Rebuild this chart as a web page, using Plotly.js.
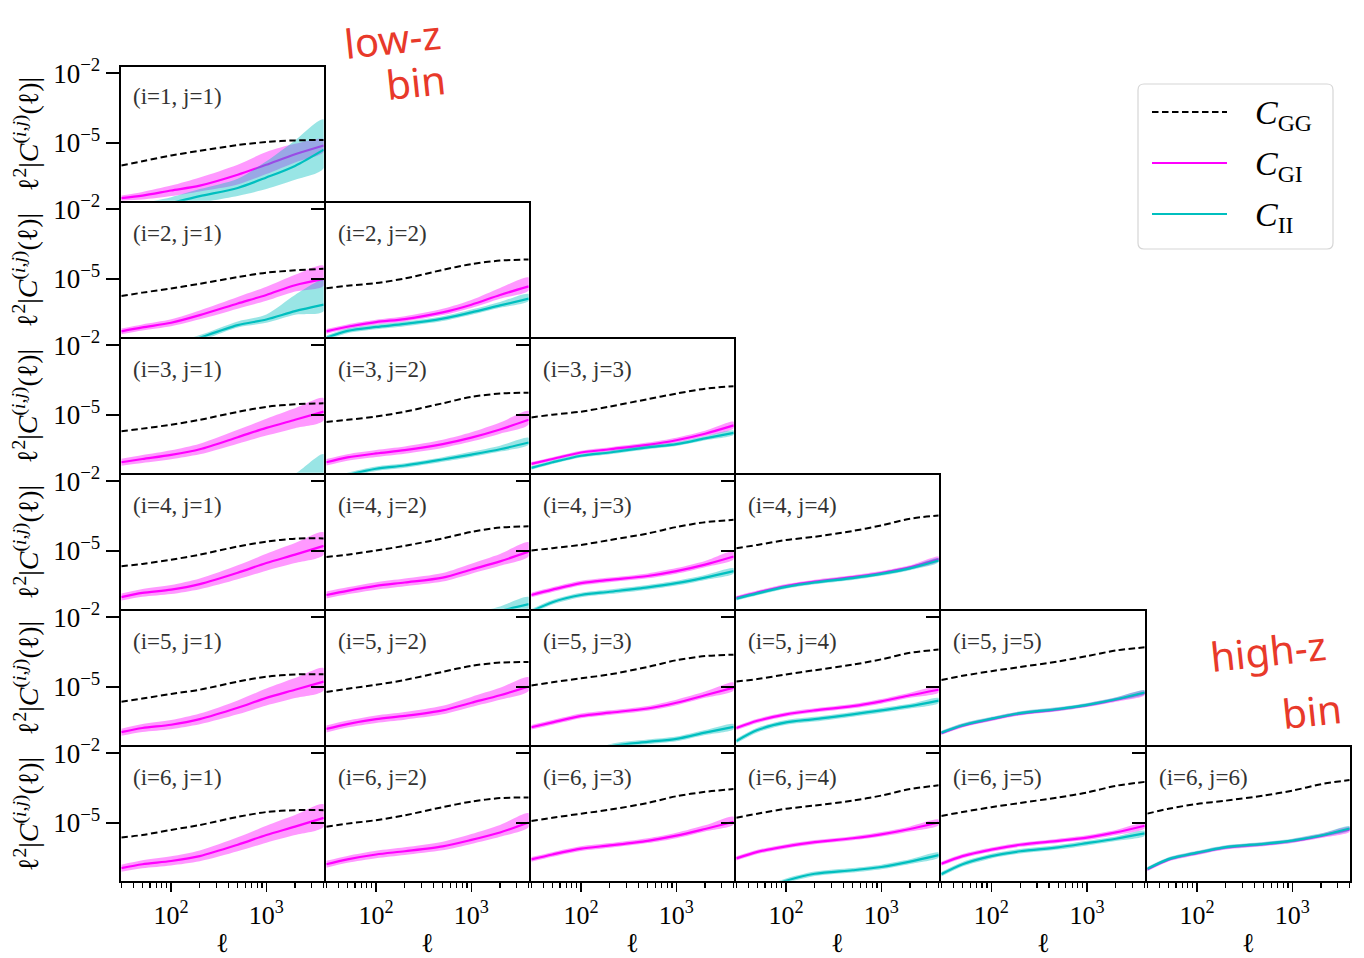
<!DOCTYPE html>
<html>
<head>
<meta charset="utf-8">
<script src="https://cdn.plot.ly/plotly-3.0.1.min.js"></script>
<style>
  html, body { margin: 0; padding: 0; background: #fff; }
  #chart { width: 1364px; height: 958px; }
</style>
</head>
<body>
<div id="chart"></div>
<script>
// Multipole sample points shared by every panel
const ELL = [30, 50, 100, 200, 500, 1000, 2000, 4000];

// Tomographic bin pairs (i, j), lower triangle, row by row
const PAIRS = [
  [1, 1],
  [2, 1], [2, 2],
  [3, 1], [3, 2], [3, 3],
  [4, 1], [4, 2], [4, 3], [4, 4],
  [5, 1], [5, 2], [5, 3], [5, 4], [5, 5],
  [6, 1], [6, 2], [6, 3], [6, 4], [6, 5], [6, 6]
];

// log10 of l^2 |C_GG(l)| per pair
const GG_LOG = [
  [-5.98, -5.80, -5.55, -5.35, -5.10, -4.97, -4.90, -4.88],
  [-5.75, -5.60, -5.42, -5.22, -4.93, -4.74, -4.64, -4.57],
  [-5.41, -5.30, -5.19, -4.99, -4.62, -4.37, -4.22, -4.17],
  [-5.71, -5.60, -5.43, -5.22, -4.88, -4.66, -4.55, -4.51],
  [-5.31, -5.22, -5.08, -4.87, -4.51, -4.23, -4.09, -4.05],
  [-5.12, -5.00, -4.87, -4.65, -4.33, -4.09, -3.88, -3.77],
  [-5.67, -5.57, -5.39, -5.17, -4.82, -4.61, -4.48, -4.47],
  [-5.27, -5.17, -4.99, -4.79, -4.47, -4.19, -4.00, -3.95],
  [-4.99, -4.89, -4.75, -4.54, -4.26, -3.98, -3.77, -3.67],
  [-4.89, -4.75, -4.54, -4.40, -4.15, -3.91, -3.62, -3.48],
  [-5.65, -5.51, -5.31, -5.13, -4.78, -4.57, -4.47, -4.46],
  [-5.23, -5.09, -4.92, -4.71, -4.36, -4.10, -3.96, -3.94],
  [-4.95, -4.81, -4.64, -4.47, -4.15, -3.86, -3.68, -3.62],
  [-4.78, -4.67, -4.47, -4.29, -4.05, -3.82, -3.54, -3.40],
  [-4.71, -4.53, -4.33, -4.15, -3.91, -3.68, -3.44, -3.30],
  [-5.64, -5.53, -5.31, -5.10, -4.75, -4.54, -4.46, -4.46],
  [-5.17, -5.04, -4.89, -4.68, -4.33, -4.09, -3.94, -3.91],
  [-4.93, -4.79, -4.61, -4.44, -4.15, -3.86, -3.67, -3.55],
  [-4.79, -4.61, -4.40, -4.26, -4.05, -3.83, -3.55, -3.39],
  [-4.71, -4.54, -4.33, -4.15, -3.91, -3.70, -3.41, -3.24],
  [-4.61, -4.40, -4.19, -4.05, -3.83, -3.62, -3.34, -3.16]
];

// log10 of l^2 |C_GI(l)| per pair (median)
const GI_LOG = [
  [-7.39, -7.28, -7.06, -6.85, -6.38, -5.95, -5.50, -5.12],
  [-7.27, -7.10, -6.90, -6.57, -6.07, -5.70, -5.28, -5.02],
  [-7.27, -7.07, -6.87, -6.74, -6.45, -6.12, -5.70, -5.33],
  [-7.05, -6.91, -6.73, -6.49, -5.97, -5.57, -5.22, -4.87],
  [-7.05, -6.84, -6.67, -6.53, -6.27, -5.99, -5.64, -5.22],
  [-7.12, -6.91, -6.63, -6.49, -6.30, -6.10, -5.82, -5.46],
  [-7.00, -6.82, -6.68, -6.44, -5.95, -5.53, -5.17, -4.79],
  [-6.91, -6.73, -6.52, -6.37, -6.16, -5.81, -5.46, -5.04],
  [-6.91, -6.68, -6.40, -6.26, -6.09, -5.88, -5.60, -5.25],
  [-7.03, -6.80, -6.52, -6.33, -6.14, -5.96, -5.72, -5.36],
  [-6.96, -6.78, -6.64, -6.40, -5.91, -5.48, -5.13, -4.78],
  [-6.82, -6.61, -6.40, -6.26, -6.02, -5.69, -5.37, -4.99],
  [-6.75, -6.54, -6.26, -6.12, -5.94, -5.69, -5.37, -5.04],
  [-6.78, -6.47, -6.19, -6.02, -5.84, -5.63, -5.37, -5.13],
  [-7.00, -6.68, -6.40, -6.16, -5.98, -5.80, -5.56, -5.27],
  [-6.96, -6.79, -6.65, -6.44, -5.95, -5.53, -5.17, -4.79],
  [-6.79, -6.58, -6.37, -6.23, -6.02, -5.74, -5.42, -4.99],
  [-6.58, -6.37, -6.12, -5.98, -5.78, -5.56, -5.27, -4.96],
  [-6.54, -6.26, -6.02, -5.84, -5.67, -5.50, -5.27, -4.99],
  [-6.77, -6.44, -6.16, -5.95, -5.78, -5.64, -5.42, -5.13],
  [-7.01, -6.59, -6.31, -6.07, -5.93, -5.79, -5.57, -5.29]
];

// Upper / lower widths of the C_GI band, in decades
const GI_UP = [
  [0.11, 0.16, 0.21, 0.35, 0.43, 0.55, 0.45, 0.27],
  [0.12, 0.13, 0.15, 0.20, 0.28, 0.35, 0.45, 0.58],
  [0.10, 0.10, 0.10, 0.12, 0.15, 0.20, 0.30, 0.38],
  [0.15, 0.17, 0.20, 0.24, 0.32, 0.40, 0.50, 0.58],
  [0.14, 0.14, 0.15, 0.16, 0.19, 0.23, 0.30, 0.38],
  [0.08, 0.08, 0.08, 0.09, 0.10, 0.11, 0.13, 0.16],
  [0.15, 0.17, 0.20, 0.24, 0.32, 0.40, 0.50, 0.58],
  [0.15, 0.15, 0.16, 0.17, 0.20, 0.25, 0.32, 0.40],
  [0.10, 0.10, 0.10, 0.10, 0.11, 0.13, 0.16, 0.22],
  [0.08, 0.08, 0.08, 0.08, 0.08, 0.08, 0.09, 0.10],
  [0.15, 0.17, 0.20, 0.24, 0.32, 0.40, 0.50, 0.58],
  [0.15, 0.15, 0.16, 0.17, 0.20, 0.25, 0.32, 0.40],
  [0.10, 0.10, 0.10, 0.10, 0.11, 0.13, 0.16, 0.22],
  [0.09, 0.09, 0.09, 0.09, 0.09, 0.10, 0.11, 0.12],
  [0.08, 0.08, 0.08, 0.08, 0.08, 0.08, 0.09, 0.10],
  [0.15, 0.17, 0.20, 0.24, 0.32, 0.40, 0.50, 0.58],
  [0.15, 0.15, 0.16, 0.17, 0.20, 0.25, 0.32, 0.40],
  [0.10, 0.10, 0.10, 0.10, 0.11, 0.13, 0.16, 0.22],
  [0.09, 0.09, 0.09, 0.09, 0.09, 0.10, 0.11, 0.12],
  [0.09, 0.09, 0.09, 0.09, 0.09, 0.10, 0.11, 0.12],
  [0.08, 0.08, 0.08, 0.08, 0.08, 0.08, 0.09, 0.10]
];
const GI_DN = [
  [0.11, 0.17, 0.24, 0.25, 0.42, 0.40, 0.35, 0.28],
  [0.12, 0.13, 0.15, 0.18, 0.22, 0.25, 0.27, 0.28],
  [0.10, 0.10, 0.10, 0.10, 0.12, 0.14, 0.16, 0.18],
  [0.15, 0.17, 0.19, 0.22, 0.28, 0.33, 0.36, 0.38],
  [0.14, 0.14, 0.15, 0.15, 0.16, 0.17, 0.18, 0.20],
  [0.08, 0.08, 0.08, 0.09, 0.10, 0.10, 0.11, 0.12],
  [0.15, 0.17, 0.19, 0.22, 0.28, 0.33, 0.36, 0.38],
  [0.15, 0.15, 0.16, 0.16, 0.17, 0.18, 0.19, 0.20],
  [0.10, 0.10, 0.10, 0.10, 0.10, 0.11, 0.11, 0.12],
  [0.08, 0.08, 0.08, 0.08, 0.08, 0.08, 0.09, 0.10],
  [0.15, 0.17, 0.19, 0.22, 0.28, 0.33, 0.36, 0.38],
  [0.15, 0.15, 0.16, 0.16, 0.17, 0.18, 0.19, 0.20],
  [0.10, 0.10, 0.10, 0.10, 0.10, 0.11, 0.11, 0.12],
  [0.09, 0.09, 0.09, 0.09, 0.09, 0.10, 0.11, 0.12],
  [0.08, 0.08, 0.08, 0.08, 0.08, 0.08, 0.09, 0.10],
  [0.15, 0.17, 0.19, 0.22, 0.28, 0.33, 0.36, 0.38],
  [0.15, 0.15, 0.16, 0.16, 0.17, 0.18, 0.19, 0.20],
  [0.10, 0.10, 0.10, 0.10, 0.10, 0.11, 0.11, 0.12],
  [0.09, 0.09, 0.09, 0.09, 0.09, 0.10, 0.11, 0.12],
  [0.09, 0.09, 0.09, 0.09, 0.09, 0.10, 0.11, 0.12],
  [0.08, 0.08, 0.08, 0.08, 0.08, 0.08, 0.09, 0.10]
];

// log10 of l^2 |C_II(l)| per pair (median); null where it stays below the panel
const II_LOG = [
  [-8.00, -7.85, -7.60, -7.30, -6.95, -6.50, -6.00, -5.30],
  [-8.50, -8.30, -8.00, -7.55, -7.00, -6.76, -6.40, -6.12],
  [-7.55, -7.25, -7.08, -6.95, -6.72, -6.45, -6.15, -5.86],
  [null, null, null, null, null, -8.30, -7.90, -7.60],
  [-7.85, -7.60, -7.33, -7.19, -6.93, -6.72, -6.49, -6.20],
  [-7.29, -7.05, -6.77, -6.63, -6.41, -6.27, -6.02, -5.78],
  [null, null, null, null, null, null, null, null],
  [null, null, null, null, -8.40, -7.95, -7.60, -7.30],
  [-7.62, -7.22, -6.91, -6.77, -6.58, -6.40, -6.16, -5.88],
  [-7.07, -6.84, -6.56, -6.37, -6.18, -6.00, -5.76, -5.42],
  [null, null, null, null, null, null, null, null],
  [null, null, null, null, null, null, null, null],
  [null, null, -8.10, -7.58, -7.38, -7.25, -6.98, -6.73],
  [-7.34, -6.87, -6.54, -6.40, -6.19, -6.02, -5.84, -5.60],
  [-6.98, -6.66, -6.38, -6.14, -5.96, -5.78, -5.54, -5.25],
  [null, null, null, null, null, null, null, null],
  [null, null, null, null, null, null, null, null],
  [null, null, null, null, null, null, null, null],
  [-8.30, -7.95, -7.50, -7.20, -7.05, -6.91, -6.68, -6.40],
  [-7.22, -6.79, -6.44, -6.23, -6.06, -5.88, -5.69, -5.46],
  [-6.99, -6.57, -6.29, -6.05, -5.91, -5.77, -5.55, -5.25]
];

// Upper / lower widths of the C_II band, in decades
const II_UP = [
  [0.30, 0.25, 0.25, 0.30, 0.40, 0.70, 1.10, 1.30],
  [0.20, 0.20, 0.20, 0.12, 0.16, 0.22, 0.70, 1.05],
  [0.10, 0.10, 0.10, 0.10, 0.10, 0.12, 0.15, 0.20],
  [0.20, 0.20, 0.20, 0.20, 0.20, 0.20, 0.35, 0.90],
  [0.10, 0.10, 0.10, 0.10, 0.10, 0.12, 0.15, 0.20],
  [0.08, 0.08, 0.08, 0.08, 0.08, 0.08, 0.09, 0.10],
  [0.10, 0.10, 0.10, 0.10, 0.10, 0.10, 0.10, 0.10],
  [0.20, 0.20, 0.20, 0.20, 0.20, 0.20, 0.20, 0.30],
  [0.10, 0.10, 0.10, 0.10, 0.10, 0.10, 0.11, 0.12],
  [0.08, 0.08, 0.08, 0.08, 0.08, 0.08, 0.09, 0.10],
  [0.10, 0.10, 0.10, 0.10, 0.10, 0.10, 0.10, 0.10],
  [0.10, 0.10, 0.10, 0.10, 0.10, 0.10, 0.10, 0.10],
  [0.10, 0.10, 0.10, 0.10, 0.10, 0.10, 0.11, 0.12],
  [0.10, 0.10, 0.10, 0.10, 0.10, 0.10, 0.10, 0.11],
  [0.08, 0.08, 0.08, 0.08, 0.08, 0.08, 0.09, 0.10],
  [0.10, 0.10, 0.10, 0.10, 0.10, 0.10, 0.10, 0.10],
  [0.10, 0.10, 0.10, 0.10, 0.10, 0.10, 0.10, 0.10],
  [0.10, 0.10, 0.10, 0.10, 0.10, 0.10, 0.10, 0.10],
  [0.10, 0.10, 0.10, 0.10, 0.10, 0.10, 0.10, 0.11],
  [0.10, 0.10, 0.10, 0.10, 0.10, 0.10, 0.10, 0.11],
  [0.08, 0.08, 0.08, 0.08, 0.08, 0.08, 0.09, 0.10]
];
const II_DN = [
  [0.30, 0.35, 0.30, 0.30, 0.35, 0.50, 0.60, 0.80],
  [0.20, 0.20, 0.20, 0.15, 0.10, 0.14, 0.15, 0.28],
  [0.10, 0.10, 0.10, 0.10, 0.10, 0.10, 0.10, 0.10],
  [0.20, 0.20, 0.20, 0.20, 0.20, 0.20, 0.30, 0.50],
  [0.10, 0.10, 0.10, 0.10, 0.10, 0.10, 0.10, 0.10],
  [0.08, 0.08, 0.08, 0.08, 0.08, 0.08, 0.08, 0.08],
  [0.10, 0.10, 0.10, 0.10, 0.10, 0.10, 0.10, 0.10],
  [0.20, 0.20, 0.20, 0.20, 0.20, 0.20, 0.20, 0.20],
  [0.10, 0.10, 0.10, 0.10, 0.10, 0.10, 0.10, 0.10],
  [0.08, 0.08, 0.08, 0.08, 0.08, 0.08, 0.08, 0.08],
  [0.10, 0.10, 0.10, 0.10, 0.10, 0.10, 0.10, 0.10],
  [0.10, 0.10, 0.10, 0.10, 0.10, 0.10, 0.10, 0.10],
  [0.10, 0.10, 0.10, 0.10, 0.10, 0.10, 0.10, 0.10],
  [0.10, 0.10, 0.10, 0.10, 0.10, 0.10, 0.10, 0.10],
  [0.08, 0.08, 0.08, 0.08, 0.08, 0.08, 0.08, 0.08],
  [0.10, 0.10, 0.10, 0.10, 0.10, 0.10, 0.10, 0.10],
  [0.10, 0.10, 0.10, 0.10, 0.10, 0.10, 0.10, 0.10],
  [0.10, 0.10, 0.10, 0.10, 0.10, 0.10, 0.10, 0.10],
  [0.10, 0.10, 0.10, 0.10, 0.10, 0.10, 0.10, 0.10],
  [0.10, 0.10, 0.10, 0.10, 0.10, 0.10, 0.10, 0.10],
  [0.08, 0.08, 0.08, 0.08, 0.08, 0.08, 0.08, 0.08]
];

// Axis ticks
const X_TICKS = [100, 1000];
const X_TICK_TEXT = ['10<sup>2</sup>', '10<sup>3</sup>'];
const X_MINOR = [30, 40, 50, 60, 70, 80, 90, 200, 300, 400, 500, 600, 700, 800, 900, 2000, 3000, 4000];
const Y_TICKS = [1e-2, 1e-5];
const Y_TICK_TEXT = ['10<sup>\u22122</sup>', '10<sup>\u22125</sup>'];

// Legend entries
const LEGEND_LABELS = ['<i>C</i><sub>GG</sub>', '<i>C</i><sub>GI</sub>', '<i>C</i><sub>II</sub>'];

// Styling
const COLORS = { gg: '#000000', gi: '#ff00ff', ii: '#00bfbf' };
const FILLS = { gi: 'rgba(255,0,255,0.4)', ii: 'rgba(0,191,191,0.4)' };
const SERIF = 'Liberation Serif, DejaVu Serif, serif';
const GG_DASH = '6.5px,3.5px';
const GG_WIDTH = 2;

// Page geometry (pixels): panel edges of the 6 x 6 grid
const W = 1364, H = 958;
const COL_EDGES = [120, 325, 530, 735, 940, 1146, 1351];
const ROW_EDGES = [66, 202, 338, 474, 610, 746, 882];
const FRAME = 2.6;
const px = x => x / W;
const py = y => 1 - y / H;
const pow10 = v => (v === null ? null : Math.pow(10, v));

const data = [];
const layout = {
  width: W, height: H,
  margin: { l: 0, r: 0, t: 0, b: 0 },
  paper_bgcolor: '#ffffff',
  plot_bgcolor: 'rgba(0,0,0,0)',
  showlegend: false,
  font: { family: SERIF, color: '#000000' },
  annotations: [],
  shapes: []
};

function band(xa, ya, center, up, dn, fill) {
  const xs = [], hi = [], lo = [];
  center.forEach((c, k) => {
    if (c === null) return;
    xs.push(ELL[k]);
    hi.push(pow10(c + up[k]));
    lo.push(pow10(c - dn[k]));
  });
  return {
    type: 'scatter', mode: 'lines', xaxis: xa, yaxis: ya,
    x: xs.concat(xs.slice().reverse()),
    y: hi.concat(lo.slice().reverse()),
    fill: 'toself', fillcolor: fill,
    line: { width: 0, shape: 'spline', smoothing: 0.8 },
    hoverinfo: 'skip'
  };
}

function curve(xa, ya, vals, color, dash, width) {
  return {
    type: 'scatter', mode: 'lines', xaxis: xa, yaxis: ya,
    x: ELL, y: vals.map(pow10),
    line: { color: color, width: width, dash: dash, shape: 'spline', smoothing: 0.8 }
  };
}

PAIRS.forEach(([i, j], k) => {
  const n = k + 1;
  const sfx = n === 1 ? '' : String(n);
  const xa = 'x' + sfx, ya = 'y' + sfx;
  const x0 = COL_EDGES[j - 1], x1 = COL_EDGES[j];
  const y0 = ROW_EDGES[i - 1], y1 = ROW_EDGES[i];
  const bottomRow = i === 6;
  const firstCol = j === 1;
  // frame lines are drawn just outside the plot area, so inset by half a line width
  const h = FRAME / 2;

  data.push(band(xa, ya, GI_LOG[k], GI_UP[k], GI_DN[k], FILLS.gi));
  data.push(curve(xa, ya, GI_LOG[k], COLORS.gi, 'solid', 2.2));
  if (II_LOG[k].some(v => v !== null)) {
    data.push(band(xa, ya, II_LOG[k], II_UP[k], II_DN[k], FILLS.ii));
    data.push(curve(xa, ya, II_LOG[k], COLORS.ii, 'solid', 2.2));
  }
  data.push(curve(xa, ya, GG_LOG[k], COLORS.gg, GG_DASH, GG_WIDTH));

  const xaxis = {
    domain: [px(x0 + h), px(x1 - h)], anchor: ya,
    type: 'log', range: [Math.log10(30), Math.log10(4000)],
    showline: true, mirror: true, linecolor: '#000', linewidth: FRAME,
    showgrid: false, zeroline: false, fixedrange: true,
    ticks: bottomRow ? 'outside' : '',
    tickvals: bottomRow ? X_TICKS : [],
    ticktext: bottomRow ? X_TICK_TEXT : [],
    ticklen: 9, tickwidth: 1.5, tickcolor: '#000',
    showticklabels: bottomRow,
    tickfont: { family: SERIF, size: 26, color: '#000' }
  };
  if (bottomRow) {
    xaxis.minor = { tickvals: X_MINOR, ticks: 'outside', ticklen: 5, tickwidth: 1.2, tickcolor: '#000', showgrid: false };
  }
  layout['xaxis' + sfx] = xaxis;

  layout['yaxis' + sfx] = {
    domain: [py(y1 - h), py(y0 + h)], anchor: xa,
    type: 'log', range: [-7.5, -1.75],
    showline: true, mirror: true, linecolor: '#000', linewidth: FRAME,
    showgrid: false, zeroline: false, fixedrange: true,
    ticks: 'outside', tickvals: Y_TICKS,
    ticktext: firstCol ? Y_TICK_TEXT : ['', ''],
    ticklen: 13, tickwidth: 2, tickcolor: '#000',
    showticklabels: firstCol,
    tickfont: { family: SERIF, size: 27, color: '#000' }
  };

  // pair label in the upper-left corner
  layout.annotations.push({
    xref: 'paper', yref: 'paper', x: px(x0 + 11), y: py(y0 + 31),
    xanchor: 'left', yanchor: 'middle', showarrow: false,
    text: '(i=' + i + ', j=' + j + ')',
    font: { family: SERIF, size: 23, color: '#333333' }
  });

  if (firstCol) {
    layout.annotations.push({
      xref: 'paper', yref: 'paper', x: px(26), y: py((y0 + y1) / 2),
      xanchor: 'center', yanchor: 'middle', showarrow: false, textangle: -90,
      text: '\u2113<sup>2</sup>|<i>C</i><sup>(<i>i</i>,<i>j</i>)</sup>(\u2113)|',
      font: { family: SERIF, size: 28, color: '#000' }
    });
  }
  if (bottomRow) {
    layout.annotations.push({
      xref: 'paper', yref: 'paper', x: px((x0 + x1) / 2), y: py(943),
      xanchor: 'center', yanchor: 'middle', showarrow: false,
      text: '\u2113', font: { family: SERIF, size: 27, color: '#000' }
    });
  }
});

// Legend box with rounded corners
(function () {
  const L = 1138, R = 1333, T = 84, B = 249, rad = 6;
  const path = [
    'M', px(L + rad), py(T),
    'L', px(R - rad), py(T),
    'Q', px(R), py(T), px(R), py(T + rad),
    'L', px(R), py(B - rad),
    'Q', px(R), py(B), px(R - rad), py(B),
    'L', px(L + rad), py(B),
    'Q', px(L), py(B), px(L), py(B - rad),
    'L', px(L), py(T + rad),
    'Q', px(L), py(T), px(L + rad), py(T), 'Z'
  ].join(' ');
  layout.shapes.push({
    type: 'path', xref: 'paper', yref: 'paper', path: path,
    fillcolor: 'rgba(255,255,255,0.8)', line: { color: '#d6d6d6', width: 1.2 }, layer: 'above'
  });
  const rows = [112, 163, 214];
  const styles = [
    { color: COLORS.gg, dash: GG_DASH, width: GG_WIDTH },
    { color: COLORS.gi, dash: 'solid', width: 2.2 },
    { color: COLORS.ii, dash: 'solid', width: 2.2 }
  ];
  rows.forEach((yy, k) => {
    layout.shapes.push({
      type: 'line', xref: 'paper', yref: 'paper', layer: 'above',
      x0: px(1152), x1: px(1227), y0: py(yy), y1: py(yy), line: styles[k]
    });
    layout.annotations.push({
      xref: 'paper', yref: 'paper', x: px(1253), y: py(yy + 3),
      xanchor: 'left', yanchor: 'middle', showarrow: false,
      text: LEGEND_LABELS[k], font: { family: SERIF, size: 34, color: '#000' }
    });
  });
})();

// Handwritten notes marking the lowest and highest redshift bins
const NOTE_FONT = { family: 'Noto Sans, DejaVu Sans, sans-serif', size: 40, color: '#e8392a' };
[
  { text: 'low-z', x: 392, y: 38 },
  { text: 'bin', x: 416, y: 82 },
  { text: 'high-z', x: 1268, y: 650 },
  { text: 'bin', x: 1312, y: 710 }
].forEach(n => {
  layout.annotations.push({
    xref: 'paper', yref: 'paper', x: px(n.x), y: py(n.y),
    xanchor: 'center', yanchor: 'middle', showarrow: false, textangle: -6,
    text: n.text, font: NOTE_FONT
  });
});

Plotly.newPlot('chart', data, layout, { staticPlot: true, displayModeBar: false });
</script>
</body>
</html>
